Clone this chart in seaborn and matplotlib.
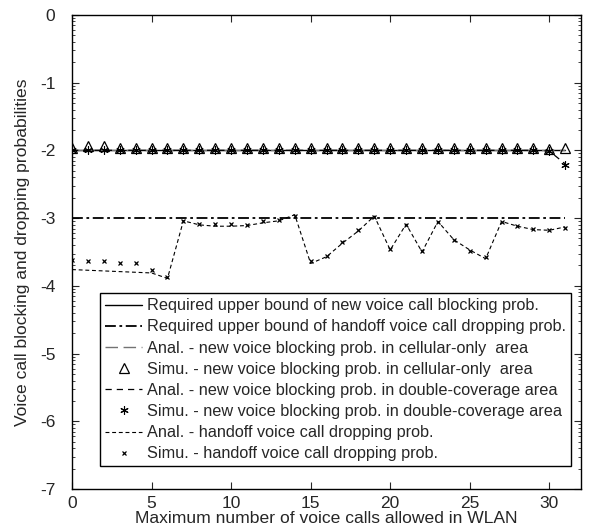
import numpy as np
import pandas as pd
import matplotlib
matplotlib.use("Agg")
import matplotlib.pyplot as plt
import seaborn as sns
from matplotlib.ticker import FuncFormatter, LogLocator, NullFormatter, FixedLocator

# ---- data (log10 of probabilities) ----
n_calls = list(range(32))
req_new_block = [-2.0] * 32
req_handoff_drop = [-3.0] * 32
anal_cell_block = [-2.0] * 32
simu_cell_block = [-1.96, -1.94, -1.94, -1.96, -1.96, -1.96, -1.96, -1.96, -1.96, -1.96,
                   -1.96, -1.96, -1.96, -1.96, -1.96, -1.96, -1.96, -1.96, -1.96, -1.96,
                   -1.96, -1.96, -1.96, -1.96, -1.96, -1.96, -1.96, -1.96, -1.96, -1.96,
                   -1.98, -1.96]
anal_dc_block = [-2.0] * 30 + [-2.01, -2.2]
simu_dc_block = [-2.0] * 30 + [-2.01, -2.22]
anal_handoff = [-3.76, -3.77, -3.78, -3.79, -3.80, -3.81, -3.89, -3.04, -3.10, -3.12,
                -3.12, -3.11, -3.07, -3.04, -2.95, -3.67, -3.57, -3.37, -3.19, -2.97,
                -3.47, -3.09, -3.50, -3.05, -3.32, -3.47, -3.60, -3.05, -3.12, -3.17,
                -3.18, -3.13]
simu_handoff = [-3.62, -3.64, -3.63, -3.66, -3.66, -3.77, -3.87, -3.05, -3.08, -3.09,
                -3.09, -3.10, -3.04, -3.03, -2.97, -3.63, -3.56, -3.36, -3.18, -2.98,
                -3.45, -3.10, -3.48, -3.06, -3.33, -3.49, -3.58, -3.06, -3.12, -3.16,
                -3.18, -3.14]
x_ticks = [0, 5, 10, 15, 20, 25, 30]
y_ticks = [0, -1, -2, -3, -4, -5, -6, -7]

labels = [
    "Required upper bound of new voice call blocking prob.",
    "Required upper bound of handoff voice call dropping prob.",
    "Anal. - new voice blocking prob. in cellular-only  area",
    "Simu. - new voice blocking prob. in cellular-only  area",
    "Anal. - new voice blocking prob. in double-coverage area",
    "Simu. - new voice blocking prob. in double-coverage area",
    "Anal. - handoff voice call dropping prob.",
    "Simu. - handoff voice call dropping prob.",
]

df = pd.DataFrame({
    "x": n_calls,
    "req_new": np.power(10.0, req_new_block),
    "req_ho": np.power(10.0, req_handoff_drop),
    "anal_cell": np.power(10.0, anal_cell_block),
    "simu_cell": np.power(10.0, simu_cell_block),
    "anal_dc": np.power(10.0, anal_dc_block),
    "simu_dc": np.power(10.0, simu_dc_block),
    "anal_ho": np.power(10.0, anal_handoff),
    "simu_ho": np.power(10.0, simu_handoff),
})

sns.set_style("ticks")
plt.rcParams['font.family'] = ['Liberation Sans', 'DejaVu Sans']

fig = plt.figure(figsize=(6.13, 5.31), dpi=100)
ax = fig.add_axes([0.1175, 0.079, 0.8305, 0.893])

common = dict(ax=ax, estimator=None, errorbar=None, sort=False)
sns.lineplot(data=df, x="x", y="req_new", color="black", lw=1.0, label=labels[0], **common)
sns.lineplot(data=df, x="x", y="req_ho", color="black", lw=1.3,
             linestyle=(0, (6, 2, 1.5, 2)), label=labels[1], **common)
sns.lineplot(data=df, x="x", y="anal_cell", color="0.45", lw=1.0,
             linestyle=(0, (9, 4)), label=labels[2], **common)
sns.lineplot(data=df, x="x", y="simu_cell", color="black", linestyle="none", marker="^",
             markersize=7, markerfacecolor="none", markeredgecolor="black",
             markeredgewidth=0.9, label=labels[3], **common)
sns.lineplot(data=df, x="x", y="anal_dc", color="black", lw=0.9,
             linestyle=(0, (5, 4)), label=labels[4], **common)
sns.lineplot(data=df, x="x", y="simu_dc", color="black", linestyle="none", marker=(6, 2, 0),
             markersize=6, markerfacecolor="black", markeredgecolor="black",
             markeredgewidth=0.8, label=labels[5], **common)
sns.lineplot(data=df, x="x", y="anal_ho", color="black", lw=0.8,
             linestyle=(0, (3.5, 2.5)), label=labels[6], **common)
sns.lineplot(data=df, x="x", y="simu_ho", color="black", linestyle="none", marker="x",
             markersize=3.5, markeredgecolor="black", markeredgewidth=0.9,
             label=labels[7], **common)

ax.set_yscale("log")
ax.set_xlim(0, 32)
ax.set_ylim(1e-7, 1e0)
ax.xaxis.set_major_locator(FixedLocator(x_ticks))
ax.yaxis.set_major_locator(FixedLocator([10.0 ** v for v in y_ticks]))
ax.yaxis.set_major_formatter(FuncFormatter(lambda v, p: f"{int(round(np.log10(v)))}"))
ax.yaxis.set_minor_locator(LogLocator(base=10, subs=np.arange(2, 10), numticks=20))
ax.yaxis.set_minor_formatter(NullFormatter())
ax.tick_params(axis="both", which="both", direction="in", top=True, right=True,
               labelsize=12.5)
ax.tick_params(axis="x", which="major", pad=5)
ax.tick_params(axis="y", which="major", pad=12)
ax.tick_params(which="major", length=5, width=0.8)
ax.tick_params(which="minor", length=2.5, width=0.6)
for s in ax.spines.values():
    s.set_linewidth(1.0)
    s.set_color("black")

ax.set_xlabel("Maximum number of voice calls allowed in WLAN", fontsize=12.6, labelpad=0)
ax.set_ylabel("Voice call blocking and dropping probabilities", fontsize=12.6, labelpad=7)

leg = ax.legend(loc="lower left", bbox_to_anchor=(0.055, 0.048), fontsize=11.7,
                frameon=True, fancybox=False, edgecolor="black", framealpha=1,
                handlelength=2.3, handletextpad=0.3, labelspacing=0.38,
                borderpad=0.3, borderaxespad=0)
leg.get_frame().set_linewidth(1.0)

fig.savefig("out.png", dpi=100)
